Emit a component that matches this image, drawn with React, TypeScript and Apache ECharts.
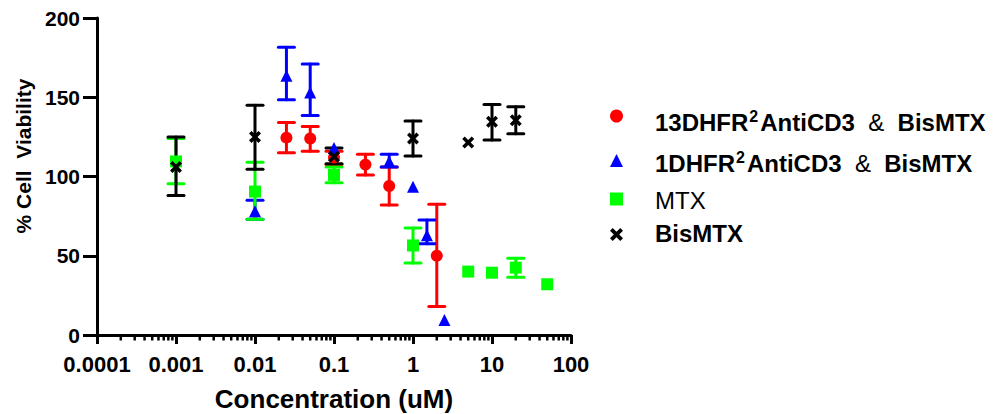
import React, { useEffect, useRef } from "react";
import * as echarts from "echarts";

const FONT = "'Liberation Sans', Arial, Helvetica, sans-serif";

// Axis tick labels
const xTickLabels = ["0.0001", "0.001", "0.01", "0.1", "1", "10", "100"];
const minorMultipliers = [2, 3, 4, 5, 6, 7, 8, 9];

// 13DHFR2AntiCD3 & BisMTX (red circles)
const dhfr13Conc = [0.025, 0.05, 0.1, 0.25, 0.5, 2];
const dhfr13Mean = [124.5, 124, 112, 107.5, 94, 50];
const dhfr13Low = [115, 116, 107.5, 101, 82, 18];
const dhfr13High = [134, 131.5, 116, 114, 106, 82.5];

// 1DHFR2AntiCD3 & BisMTX (blue triangles)
const dhfr1Conc = [0.01, 0.025, 0.05, 0.1, 0.5, 1, 1.5, 2.5];
const dhfr1Mean = [78, 163.5, 153, 118, 109.5, 93.5, 63, 9.5];
const dhfr1Low = [73, 148.5, 138.5, null, 106, null, 57.5, null];
const dhfr1High = [85, 181.5, 171, null, 114, null, 72.5, null];

// MTX (green squares)
const mtxConc = [0.001, 0.01, 0.1, 1, 5, 10, 20, 50];
const mtxMean = [109.5, 90.5, 101, 56.5, 40, 39.3, 42.5, 32];
const mtxLow = [95.5, 73, 96, 45.5, null, null, 36.5, null];
const mtxHigh = [124, 109, 106, 67.5, null, null, 48.5, null];

// BisMTX (black crosses)
const bisConc = [0.001, 0.01, 0.1, 1, 5, 10, 20];
const bisMean = [106, 125, 112.5, 124, 121.5, 134.5, 135.5];
const bisLow = [88, 104.5, 108, 113, null, 123, 127];
const bisHigh = [125, 145, 118, 135, null, 145.5, 144];

const seriesNames = ["13DHFR2AntiCD3 & BisMTX", "1DHFR2AntiCD3 & BisMTX", "MTX", "BisMTX"];
const seriesColors = ["#ff0000", "#0000ff", "#00ff00", "#000000"];

const CROSS =
  "path://M2.5,0 L6,3.5 L9.5,0 L12,2.5 L8.5,6 L12,9.5 L9.5,12 L6,8.5 L2.5,12 L0,9.5 L3.5,6 L0,2.5 Z";

function points(conc: number[], mean: number[]) {
  return conc.map((c, i) => [c, mean[i]]);
}
function errs(conc: number[], low: (number | null)[], high: (number | null)[]) {
  const out: number[][] = [];
  conc.forEach((c, i) => {
    if (low[i] != null && high[i] != null) out.push([c, low[i] as number, high[i] as number]);
  });
  return out;
}

function errorSeries(name: string, color: string, data: number[][]) {
  return {
    type: "custom",
    name: name + "-err",
    silent: true,
    data,
    encode: { x: 0, y: [1, 2] },
    renderItem: (_p: any, api: any) => {
      const x = api.value(0);
      const a = api.coord([x, api.value(2)]);
      const b = api.coord([x, api.value(1)]);
      const hw = 8;
      const style = { stroke: color, lineWidth: 3, lineCap: "round", fill: null };
      return {
        type: "group",
        children: [
          { type: "line", shape: { x1: a[0], y1: a[1], x2: b[0], y2: b[1] }, style },
          { type: "line", shape: { x1: a[0] - hw, y1: a[1], x2: a[0] + hw, y2: a[1] }, style },
          { type: "line", shape: { x1: b[0] - hw, y1: b[1], x2: b[0] + hw, y2: b[1] }, style },
        ],
      };
    },
  };
}

function scatterSeries(name: string, color: string, symbol: string, data: number[][], size = 12) {
  return {
    type: "scatter",
    name,
    symbol,
    symbolSize: size,
    itemStyle: { color, opacity: 1 },
    data,
    silent: true,
  };
}

const minorTickData: number[][] = [];
xTickLabels.slice(0, -1).forEach((lab) => {
  const base = parseFloat(lab);
  minorMultipliers.forEach((m) => minorTickData.push([base * m, 0]));
});

const richStyles = {
  b: { fontFamily: FONT, fontSize: 24, fontWeight: "bold", color: "#000", verticalAlign: "bottom", lineHeight: 24 },
  r: { fontFamily: FONT, fontSize: 24, fontWeight: "normal", color: "#000", verticalAlign: "bottom", lineHeight: 24 },
  sup: { fontFamily: FONT, fontSize: 16, fontWeight: "bold", color: "#000", verticalAlign: "bottom", lineHeight: 16, padding: [0, 2, 10, 1] },
};

const legendLabels: Record<string, string> = {
  [seriesNames[0]]: "{b|13DHFR}{sup|2}{b|AntiCD3  }{r|&}{b|  BisMTX}",
  [seriesNames[1]]: "{b|1DHFR}{sup|2}{b|AntiCD3  }{r|&}{b|  BisMTX}",
  [seriesNames[2]]: "{r|MTX}",
  [seriesNames[3]]: "{b|BisMTX}",
};

const legendTops = [108, 149.5, 188, 221.5];
const legendPads = [
  [12, 0, 0, 27],
  [6, 0, 0, 27],
  [2, 0, 0, 27],
  [0, 0, 2, 27],
];

export default function App() {
  const ref = useRef<HTMLDivElement>(null);
  useEffect(() => {
    if (!ref.current) return;
    const chart = echarts.init(ref.current, null, { renderer: "svg" });
    const option: any = {
      animation: false,
      backgroundColor: "#ffffff",
      grid: { left: 97, right: 427, top: 18, bottom: 79, containLabel: false, outerBoundsMode: "none" },
      xAxis: {
        type: "log",
        logBase: 10,
        min: 0.0001,
        max: 100,
        name: "Concentration (uM)",
        nameLocation: "middle",
        nameGap: 51,
        nameTextStyle: { fontFamily: FONT, fontSize: 26, fontWeight: "bold", color: "#000" },
        axisLine: { show: true, onZero: false, lineStyle: { color: "#000", width: 3 } },
        axisTick: { show: true, length: 9, lineStyle: { color: "#000", width: 3 } },
        minorTick: { show: false },
        splitLine: { show: false },
        axisLabel: {
          fontFamily: FONT,
          fontSize: 22,
          fontWeight: "bold",
          color: "#000",
          margin: 18,
          formatter: (v: number) => {
            const idx = Math.round(Math.log10(v)) + 4;
            return xTickLabels[idx] ?? "";
          },
        },
      },
      yAxis: {
        type: "value",
        min: 0,
        max: 200,
        interval: 50,
        axisLine: { show: true, lineStyle: { color: "#000", width: 3 } },
        axisTick: { show: true, length: 14, lineStyle: { color: "#000", width: 3 } },
        splitLine: { show: false },
        axisLabel: { fontFamily: FONT, fontSize: 21, fontWeight: "bold", color: "#000", margin: 17 },
      },
      legend: seriesNames.map((n, i) => ({
        data: [n],
        left: 610,
        top: legendTops[i],
        padding: 0,
        orient: "vertical",
        itemWidth: 13,
        itemHeight: 13,
        selectedMode: false,
        formatter: (name: string) => legendLabels[name],
        textStyle: { fontFamily: FONT, fontSize: 24, color: "#000", padding: legendPads[i], rich: richStyles },
      })),
      graphic: [
        {
          type: "text",
          x: 23,
          y: 156,
          rotation: Math.PI / 2,
          style: {
            text: "% Cell  Viability",
            font: `bold 21px ${FONT}`,
            fill: "#000",
            textAlign: "center",
            textVerticalAlign: "middle",
          },
        },
      ],
      series: [
        {
          type: "custom",
          name: "minor-ticks",
          silent: true,
          clip: false,
          data: minorTickData,
          renderItem: (_p: any, api: any) => {
            const p = api.coord([api.value(0), 0]);
            return {
              type: "line",
              shape: { x1: p[0], y1: p[1], x2: p[0], y2: p[1] + 5.5 },
              style: { stroke: "#000", lineWidth: 2.5 },
            };
          },
        },
        errorSeries(seriesNames[0], seriesColors[0], errs(dhfr13Conc, dhfr13Low, dhfr13High)),
        scatterSeries(seriesNames[0], seriesColors[0], "circle", points(dhfr13Conc, dhfr13Mean)),
        errorSeries(seriesNames[1], seriesColors[1], errs(dhfr1Conc, dhfr1Low, dhfr1High)),
        scatterSeries(seriesNames[1], seriesColors[1], "triangle", points(dhfr1Conc, dhfr1Mean)),
        errorSeries(seriesNames[2], seriesColors[2], errs(mtxConc, mtxLow, mtxHigh)),
        scatterSeries(seriesNames[2], seriesColors[2], "rect", points(mtxConc, mtxMean)),
        errorSeries(seriesNames[3], seriesColors[3], errs(bisConc, bisLow, bisHigh)),
        scatterSeries(seriesNames[3], seriesColors[3], CROSS, points(bisConc, bisMean)),
      ],
    };
    chart.setOption(option);
    return () => chart.dispose();
  }, []);
  return (
    <div
      ref={ref}
      style={{ position: "fixed", left: 0, top: 0, width: 998, height: 414, background: "#fff" }}
    />
  );
}
